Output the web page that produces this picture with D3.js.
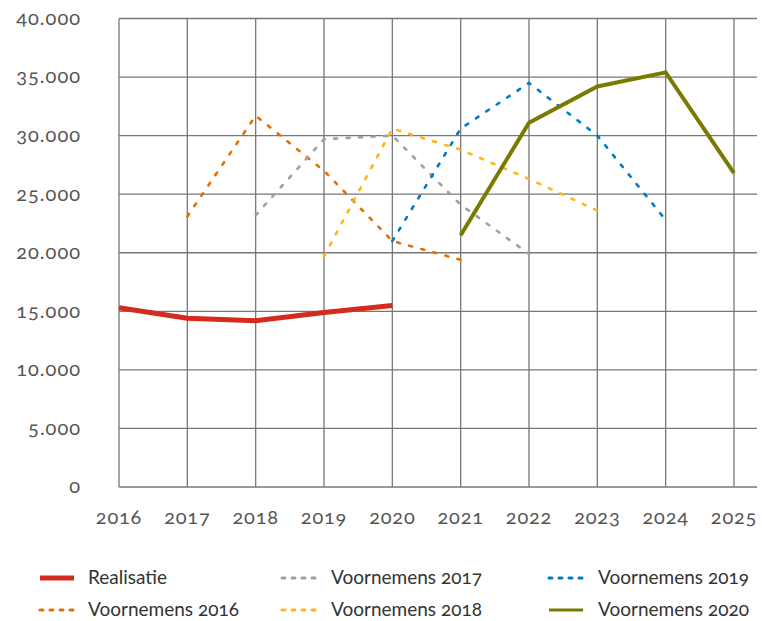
<!DOCTYPE html>
<html>
<head>
<meta charset="utf-8">
<script src="https://cdn.jsdelivr.net/npm/d3@7"></script>
<style>
  body { margin: 0; background: #fff; }
  text { font-family: Lato, "Noto Sans", sans-serif; fill: #555; font-variant-numeric: oldstyle-nums; font-feature-settings: "onum" 1; }
</style>
</head>
<body>
<script>
let w = 762;
let h = 621;

const years = [2016, 2017, 2018, 2019, 2020, 2021, 2022, 2023, 2024, 2025];
const yTicks = [0, 5000, 10000, 15000, 20000, 25000, 30000, 35000, 40000];

const realisatieYears = [2016, 2017, 2018, 2019, 2020];
const realisatie = [15300, 14400, 14200, 14900, 15500];

const v2016Years = [2017, 2018, 2019, 2020, 2021];
const v2016 = [23100, 31700, 27000, 21000, 19400];

const v2017Years = [2018, 2019, 2020, 2021, 2022];
const v2017 = [23200, 29700, 30000, 24100, 19900];

const v2018Years = [2019, 2020, 2021, 2022, 2023];
const v2018 = [19700, 30600, 28800, 26300, 23600];

const v2019Years = [2020, 2021, 2022, 2023, 2024];
const v2019 = [21000, 30600, 34500, 30000, 22800];

const v2020Years = [2021, 2022, 2023, 2024, 2025];
const v2020 = [21500, 31100, 34200, 35400, 26800];

//series styles
const series = [
  { name: "Realisatie", xs: realisatieYears, ys: realisatie, color: "#d52b1e", width: 5, dash: null },
  { name: "Voornemens 2016", xs: v2016Years, ys: v2016, color: "#e17000", width: 2.6, dash: "3,9.5" },
  { name: "Voornemens 2017", xs: v2017Years, ys: v2017, color: "#a0a0a0", width: 2.6, dash: "3,9.5" },
  { name: "Voornemens 2018", xs: v2018Years, ys: v2018, color: "#ffb612", width: 2.6, dash: "3,9.5" },
  { name: "Voornemens 2019", xs: v2019Years, ys: v2019, color: "#007bc7", width: 2.6, dash: "3,9.5" },
  { name: "Voornemens 2020", xs: v2020Years, ys: v2020, color: "#7a7a00", width: 4, dash: null },
];

let svg = d3.select("body").append("svg").attr("width", w).attr("height", h);

let x = d3.scaleLinear().domain([2016, 2025]).range([119, 734]);
let y = d3.scaleLinear().domain([0, 40000]).range([487, 18.5]);
let plotRight = 757;

//grid
svg.append("g")
  .selectAll("line")
  .data(yTicks)
  .enter()
  .append("line")
  .attr("x1", x(2016))
  .attr("x2", plotRight)
  .attr("y1", function (d) { return y(d); })
  .attr("y2", function (d) { return y(d); })
  .attr("stroke", "#777")
  .attr("stroke-width", 1.3);

svg.append("g")
  .selectAll("line")
  .data(years)
  .enter()
  .append("line")
  .attr("x1", function (d) { return x(d); })
  .attr("x2", function (d) { return x(d); })
  .attr("y1", y(40000))
  .attr("y2", y(0))
  .attr("stroke", "#777")
  .attr("stroke-width", 1.3);

//axis labels
let fmt = d3.formatLocale({ decimal: ",", thousands: ".", grouping: [3], currency: ["€", ""] }).format(",.0f");

svg.append("g")
  .selectAll("text")
  .data(yTicks)
  .enter()
  .append("text")
  .attr("x", 81)
  .attr("y", function (d) { return y(d); })
  .attr("dy", "0.32em")
  .attr("text-anchor", "end")
  .attr("font-size", 20)
  .attr("letter-spacing", 1)
  .text(function (d) { return fmt(d); });

svg.append("g")
  .selectAll("text")
  .data(years)
  .enter()
  .append("text")
  .attr("x", function (d) { return x(d); })
  .attr("y", 524)
  .attr("text-anchor", "middle")
  .attr("font-size", 20)
  .attr("letter-spacing", 0.8)
  .text(function (d) { return d; });

//lines
let line = d3.line()
  .x(function (d) { return x(d[0]); })
  .y(function (d) { return y(d[1]); });

svg.append("g")
  .selectAll("path")
  .data(series.slice(1).concat([series[0]]))
  .enter()
  .append("path")
  .attr("d", function (s) { return line(d3.zip(s.xs, s.ys)); })
  .attr("fill", "none")
  .attr("stroke", function (s) { return s.color; })
  .attr("stroke-width", function (s) { return s.width; })
  .attr("stroke-dasharray", function (s) { return s.dash; })
  .attr("stroke-linecap", function (s) { return s.dash ? "round" : "butt"; })
  .attr("stroke-linejoin", "miter");

//legend
const legendOrder = [0, 2, 4, 1, 3, 5];
const colX = [40, 282, 549];
const rowY = [578, 610];

let legend = svg.append("g")
  .selectAll("g")
  .data(legendOrder)
  .enter()
  .append("g")
  .attr("transform", function (d, i) {
    return "translate(" + colX[i % 3] + "," + rowY[Math.floor(i / 3)] + ")";
  });

legend.append("line")
  .attr("x1", 0)
  .attr("x2", 34)
  .attr("y1", 0)
  .attr("y2", 0)
  .attr("stroke", function (d) { return series[d].color; })
  .attr("stroke-width", function (d) { return d === 0 ? 5 : 3; })
  .attr("stroke-dasharray", function (d) { return series[d].dash ? "3,7" : null; })
  .attr("stroke-linecap", function (d) { return series[d].dash ? "round" : "butt"; });

legend.append("text")
  .attr("x", function (d, i) { return i % 3 === 0 ? 48 : 49; })
  .attr("y", 0)
  .attr("dy", "0.33em")
  .attr("font-size", 19)
  .style("fill", "#333")
  .text(function (d) { return series[d].name; });
</script>
</body>
</html>
